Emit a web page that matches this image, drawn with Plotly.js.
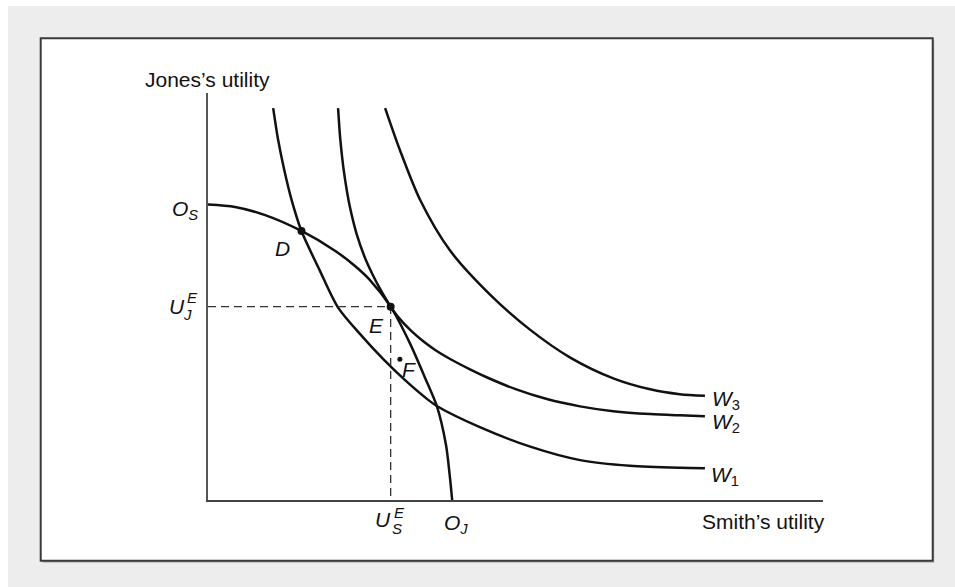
<!DOCTYPE html>
<html>
<head>
<meta charset="utf-8">
<script src="https://cdn.plot.ly/plotly-3.0.1.min.js"></script>
<style>html,body{margin:0;padding:0;background:#fff;}#chart{width:955px;height:587px;}</style>
</head>
<body>
<div id="chart"></div>
<script>
// Utility possibilities frontier (O_S to O_J)
const frontierX = [0, 4.4, 9.3, 15.2, 20.7, 23.9, 26.3, 29.7, 32.8, 35.3, 37.2, 38.7, 39.3, 39.7];
const frontierY = [72.6, 72.0, 70.0, 66.1, 61.2, 57.5, 54.1, 47.5, 38.6, 30.0, 23.1, 13.5, 6.1, 0];

// Social indifference curves
const w1X = [10.6, 11.4, 12.4, 13.6, 15.2, 18.2, 21.1, 24.7, 28.5, 32.0, 35.8, 37.2, 44.2, 52.4, 60.5, 68.6, 76.7, 80.8];
const w1Y = [96.3, 88.5, 81.1, 73.7, 66.1, 56.3, 47.4, 40.8, 34.6, 29.5, 24.6, 23.1, 17.9, 13.1, 9.8, 8.4, 7.9, 7.8];
const w2X = [21.15, 21.5, 22.0, 22.6, 23.1, 24.2, 25.5, 26.7, 28.0, 29.0, 29.7, 31.0, 33.0, 35.0, 37.0, 39.3, 42.6, 45.4, 49.9, 55.1, 60.5, 65.9, 71.9, 76.7, 80.8];
const w2Y = [96.3, 88.8, 81.8, 75.8, 71.8, 65.2, 59.6, 55.6, 51.8, 49.2, 47.5, 44.8, 41.6, 39.0, 36.8, 34.7, 32.1, 30.1, 27.3, 24.8, 23.0, 21.8, 21.1, 20.8, 20.6];
const w3X = [28.8, 31.2, 34.5, 39.3, 45.9, 52.4, 58.9, 65.9, 71.9, 76.7, 80.8];
const w3Y = [96.3, 86.0, 73.7, 61.4, 50.4, 41.8, 35.0, 29.9, 27.2, 26.0, 25.6];

// Points
const pointNames = ['D', 'E', 'F'];
const pointX = [15.2, 29.7, 31.2];
const pointY = [66.1, 47.5, 34.6];

// Equilibrium utilities at E
const usE = 29.7;
const ujE = 47.5;

const FONT = 'Liberation Sans, Arial, Helvetica, sans-serif';
const INK = '#111';

const curve = (x, y) => ({
  x: x, y: y, type: 'scatter', mode: 'lines',
  line: {color: INK, width: 2.5, shape: 'spline', smoothing: 0.8},
  hoverinfo: 'skip', showlegend: false, cliponaxis: false
});

const traces = [
  curve(frontierX, frontierY),
  curve(w1X, w1Y),
  curve(w2X, w2Y),
  curve(w3X, w3Y),
  {x: [0, usE, usE], y: [ujE, ujE, 0], type: 'scatter', mode: 'lines',
   line: {color: '#333', width: 1.3, dash: '8px,5px'}, hoverinfo: 'skip', showlegend: false},
  {x: pointX.slice(0, 2), y: pointY.slice(0, 2), type: 'scatter', mode: 'markers',
   marker: {color: INK, size: 8}, hoverinfo: 'skip', showlegend: false},
  {x: pointX.slice(2), y: pointY.slice(2), type: 'scatter', mode: 'markers',
   marker: {color: INK, size: 5}, hoverinfo: 'skip', showlegend: false}
];

// annotation helper in axis units (axes span 0..100 -> paper 0..1)
function ann(text, x, y, size, opts) {
  return Object.assign({
    text: text, xref: 'paper', yref: 'paper', x: x / 100, y: y / 100,
    xanchor: 'center', yanchor: 'middle', showarrow: false,
    font: {family: FONT, size: size, color: INK}
  }, opts || {});
}

const annotations = [
  ann('Jones\u2019s utility', -0.08, 103.4, 21),
  ann('Smith\u2019s utility', 90.4, -5.4, 21),
  ann('<i>O<sub>S</sub></i>', -3.74, 71.25, 21),
  ann('<i>' + pointNames[0] + '</i>', 12.1, 61.8, 21),
  ann('<i>U</i>', -4.96, 47.5, 21),
  ann('<i>E</i>', -2.44, 49.75, 15),
  ann('<i>J</i>', -3.33, 45.5, 15),
  ann('<i>' + pointNames[1] + '</i>', 27.4, 42.9, 21),
  ann('<i>' + pointNames[2] + '</i>', 32.7, 32.1, 21),
  ann('<i>W</i><sub>3</sub>', 84.2, 24.6, 21),
  ann('<i>W</i><sub>2</sub>', 84.2, 18.9, 21),
  ann('<i>W</i><sub>1</sub>', 84.1, 5.9, 21),
  ann('<i>U</i>', 28.4, -4.9, 21),
  ann('<i>E</i>', 31.06, -3.07, 15),
  ann('<i>S</i>', 30.7, -7.1, 15),
  ann('<i>O<sub>J</sub></i>', 40.4, -5.9, 21)
];

const shapes = [
  {type: 'rect', xref: 'paper', yref: 'paper', x0: -0.3252, x1: 1.2146, y0: -0.2138, y1: 1.2138,
   fillcolor: '#ededed', line: {width: 0}, layer: 'below'},
  {type: 'rect', xref: 'paper', yref: 'paper', x0: -0.2687, x1: 1.1809, y0: -0.1540, y1: 1.1294,
   fillcolor: '#b5b5b5', line: {width: 0}, layer: 'below'},
  {type: 'rect', xref: 'paper', yref: 'paper', x0: -0.272, x1: 1.1784, y0: -0.1491, y1: 1.1344,
   fillcolor: '#ffffff', line: {color: '#3a3a3a', width: 2}, layer: 'below'}
];

const layout = {
  width: 955, height: 587,
  margin: {l: 208, r: 132, t: 93, b: 87, autoexpand: false},
  paper_bgcolor: '#ffffff', plot_bgcolor: 'rgba(0,0,0,0)',
  showlegend: false,
  xaxis: {range: [0, 100], showgrid: false, zeroline: false, showticklabels: false, ticks: '',
          showline: true, linecolor: '#444', linewidth: 1.5, fixedrange: true},
  yaxis: {range: [0, 100], showgrid: false, zeroline: false, showticklabels: false, ticks: '',
          showline: true, linecolor: '#555', linewidth: 2, fixedrange: true},
  shapes: shapes,
  annotations: annotations
};

Plotly.newPlot('chart', traces, layout, {staticPlot: true, displayModeBar: false});
</script>
</body>
</html>
